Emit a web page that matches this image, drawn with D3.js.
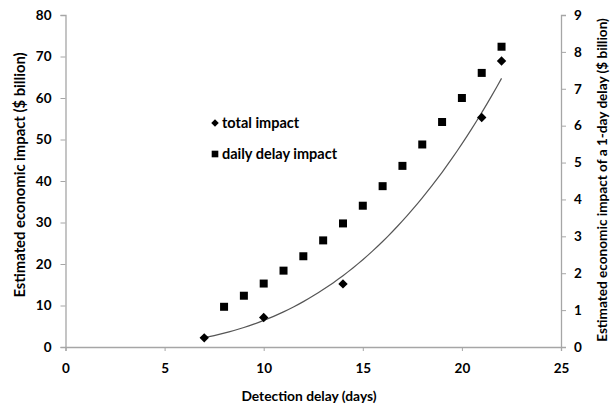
<!DOCTYPE html>
<html>
<head>
<meta charset="utf-8">
<script src="https://cdnjs.cloudflare.com/ajax/libs/d3/7.8.5/d3.min.js"></script>
<style>
  body { margin: 0; background: #fff; }
  text { font-family: Lato, "Open Sans", sans-serif; font-weight: bold; fill: #000; }
</style>
</head>
<body>
<script>
// data
var totalDays = [7, 10, 14, 21, 22];
var totalImpact = [2.2, 7.1, 15.2, 55.3, 68.9];

var dailyDays = [8, 9, 10, 11, 12, 13, 14, 15, 16, 17, 18, 19, 20, 21, 22];
var dailyImpact = [1.09, 1.39, 1.72, 2.07, 2.46, 2.89, 3.35, 3.83, 4.36, 4.91, 5.49, 6.10, 6.75, 7.43, 8.14];

var xTicks = [0, 5, 10, 15, 20, 25];
var yLeftTicks = [0, 10, 20, 30, 40, 50, 60, 70, 80];
var yRightTicks = [0, 1, 2, 3, 4, 5, 6, 7, 8, 9];

var width = 610, height = 411;
var plotLeft = 65.5, plotRight = 561, plotTop = 15, plotBottom = 347;

var svg = d3.select("body").append("svg")
  .attr("width", width)
  .attr("height", height);

var x = d3.scaleLinear().domain([0, 25]).range([plotLeft, plotRight]);
var yL = d3.scaleLinear().domain([0, 80]).range([plotBottom, plotTop]);
var yR = d3.scaleLinear().domain([0, 9]).range([plotBottom, plotTop]);

// axes
var axisColor = "#a6a6a6";

var gx = svg.append("g")
  .attr("transform", "translate(0," + plotBottom + ")")
  .call(d3.axisBottom(x).tickValues(xTicks).tickSize(4).tickPadding(12));

var gl = svg.append("g")
  .attr("transform", "translate(" + plotLeft + ",0)")
  .call(d3.axisLeft(yL).tickValues(yLeftTicks).tickSize(5).tickPadding(9));

var gr = svg.append("g")
  .attr("transform", "translate(" + plotRight + ",0)")
  .call(d3.axisRight(yR).tickValues(yRightTicks).tickSize(5).tickPadding(8));

[gx, gl, gr].forEach(function(g) {
  g.select(".domain").attr("stroke", axisColor).attr("stroke-width", 1.3);
  g.selectAll(".tick line").attr("stroke", axisColor);
  g.selectAll(".tick text").style("font-size", "13.5px");
  g.attr("font-family", null);
});

// power trend line fitted to the total impact points
var lx = totalDays.map(Math.log), ly = totalImpact.map(Math.log);
var mx = d3.mean(lx), my = d3.mean(ly);
var b = d3.sum(lx, function(v, i) { return (v - mx) * (ly[i] - my); }) /
        d3.sum(lx, function(v) { return (v - mx) * (v - mx); });
var a = Math.exp(my - b * mx);
var trend = d3.range(totalDays[0], totalDays[totalDays.length - 1] + 0.01, 0.25)
  .map(function(d) { return [d, a * Math.pow(d, b)]; });

svg.append("path")
  .datum(trend)
  .attr("fill", "none")
  .attr("stroke", "#555")
  .attr("stroke-width", 1.2)
  .attr("d", d3.line()
    .x(function(d) { return x(d[0]); })
    .y(function(d) { return yL(d[1]); }));

// markers
var square = d3.symbol().type(d3.symbolSquare);

svg.selectAll(".daily")
  .data(dailyDays)
  .enter()
  .append("path")
  .attr("class", "daily")
  .attr("d", square.size(64))
  .attr("transform", function(d, i) {
    return "translate(" + x(d) + "," + yR(dailyImpact[i]) + ")";
  });

svg.selectAll(".total")
  .data(totalDays)
  .enter()
  .append("path")
  .attr("class", "total")
  .attr("d", square.size(44))
  .attr("transform", function(d, i) {
    return "translate(" + x(d) + "," + yL(totalImpact[i]) + ") rotate(45)";
  });

// legend
svg.append("path")
  .attr("d", d3.symbol().type(d3.symbolSquare).size(28)())
  .attr("transform", "translate(215,123) rotate(45)");
svg.append("text").attr("x", 222).attr("y", 128).style("font-size", "14.5px").text("total impact");

svg.append("path")
  .attr("d", d3.symbol().type(d3.symbolSquare).size(44)())
  .attr("transform", "translate(215,154)");
svg.append("text").attr("x", 222).attr("y", 159).style("font-size", "14.5px").text("daily delay impact");

// axis titles
svg.append("text")
  .attr("x", 309)
  .attr("y", 401)
  .attr("text-anchor", "middle")
  .style("font-size", "13.8px")
  .text("Detection delay (days)");

svg.append("text")
  .attr("transform", "translate(25,175) rotate(-90)")
  .attr("text-anchor", "middle")
  .style("font-size", "14.8px")
  .text("Estimated economic impact ($ billion)");

svg.append("text")
  .attr("transform", "translate(606.5,180) rotate(-90)")
  .attr("text-anchor", "middle")
  .style("font-size", "13.6px")
  .text("Estimated economic impact of a 1-day delay ($ billion)");
</script>
</body>
</html>
